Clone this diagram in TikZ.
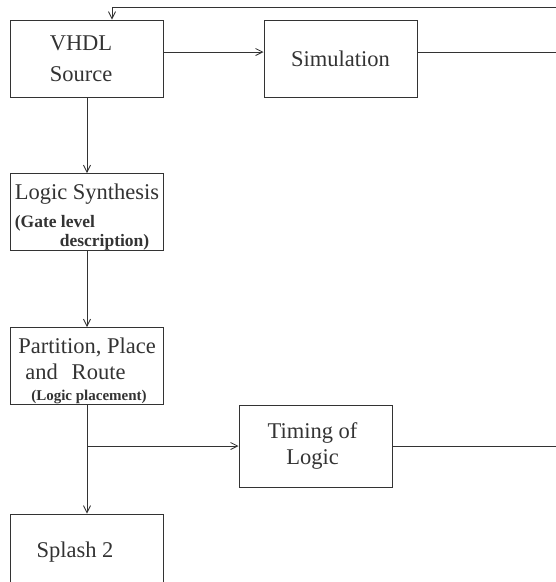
\documentclass[tikz,border=0pt]{standalone}
\usepackage{fontspec}
\setmainfont{Liberation Serif}
\usetikzlibrary{arrows.meta,positioning}
\tikzset{>/.tip={Straight Barb[length=7pt,width=7pt,line width=0.8pt]}}
\tikzset{blk/.style={draw,line width=1pt,minimum width=153pt,minimum height=77pt,inner sep=0pt,font=\fontsize{22.5}{30}\selectfont}}
\newcommand{\remark}[1]{{\fontsize{17.5}{19}\selectfont\bfseries #1}}
\newcommand{\tinyremark}[1]{{\fontsize{15}{17}\selectfont\bfseries #1}}

\begin{document}
\begin{tikzpicture}[x=1pt,y=-1pt,node distance=153.5pt,on grid,line width=0.9pt,color=black!80]
        \useasboundingbox (0,0) rectangle (556,582);
        \node(src)[blk,align=center] at (87,58.5){VHDL\rule{12pt}{0pt}\\[1pt]Source\rule{12pt}{0pt}};
        \node(sim)[blk,right=253.5pt of src]{Simulation};
        \node(synth)[blk,below=of src,align=left]{\rule{0pt}{25pt}Logic Synthesis\\[-2pt]\remark{(Gate level}\\[-11pt]\hspace{45pt}\remark{description)}};
        \node(par)[blk,below=154pt of synth,align=left]{\rule{0pt}{26pt}Partition, Place\\[-4pt]\hspace{7pt}and\hspace{14pt}Route\\[-9pt]\hspace{13pt}\tinyremark{(Logic placement)}};
        \node(tim)[blk,minimum height=82pt,align=center] at (315.5,446){Timing of\rule{6pt}{0pt}\\[-3pt]Logic\rule{6pt}{0pt}};
        \node(spl)[blk,below=186.5pt of par]{Splash 2\rule{24pt}{0pt}};
        \coordinate(topR) at (556,7);
        \coordinate(simR) at (556,52);
        \coordinate(timR) at (556,446);
        \coordinate(split) at (par.south |- tim.west);
        \draw[->] (topR) -| ([xshift=25pt]src.north);
        \draw[->] ([yshift=6.5pt]src.east) -- ([yshift=6.5pt]sim.west);
        \draw (simR) -- ([yshift=6.5pt]sim.east);
        \draw[->] (src) -- (synth);
        \draw[->] (synth) -- (par);
        \draw[->] (par) -- (spl);
        \draw[->] (split) -- (tim);
        \draw (tim) -- (timR);
      \end{tikzpicture}
\end{document}
